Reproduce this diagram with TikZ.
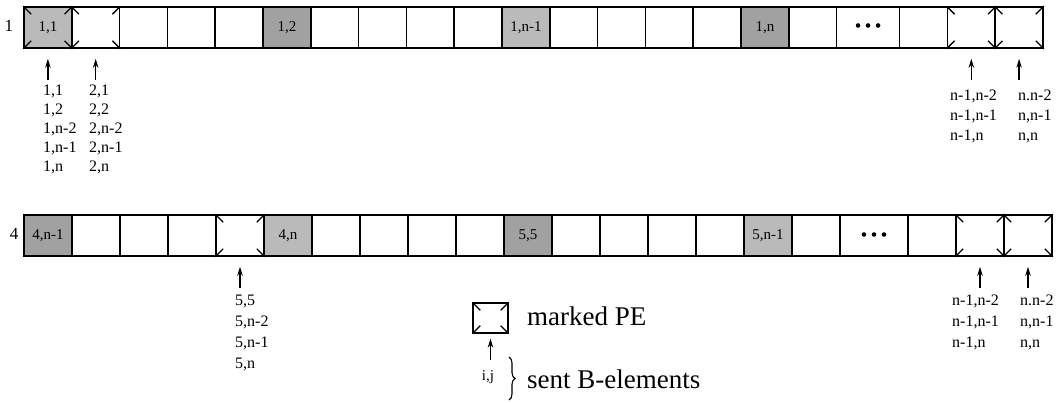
\documentclass[tikz,border=0pt]{standalone}
\usepackage{fontspec}
\setmainfont{Liberation Serif}
\usetikzlibrary{arrows.meta,decorations.pathreplacing}
\newcommand\markpe[2][8]{%
  \draw[tick] (#2.north west) -- ++(#1,#1);
  \draw[tick] (#2.north east) -- ++(-#1,#1);
  \draw[tick] (#2.south west) -- ++(#1,-#1);
  \draw[tick] (#2.south east) -- ++(-#1,-#1);}
\begin{document}
\begin{tikzpicture}[x=1pt,y=-1pt,
  pe/.style={draw, line width=1.6pt, minimum height=41pt, inner sep=0pt, font=\fontsize{15}{17}\selectfont},
  shL/.style={fill=black!27},
  shD/.style={fill=black!37},
  emp/.style={},
  tick/.style={line width=1.3pt},
  uarr/.style={-{Stealth[length=9pt,width=5.5pt]}, line width=1.3pt},
  lab/.style={anchor=north west, inner sep=0pt, align=left},
]
\path[use as bounding box] (0,0) rectangle (1061,402);

% row 1
\foreach \i/\st/\txt in {0/shL/{1,1},1/emp/{},2/emp/{},3/emp/{},4/emp/{},5/shD/{1,2},6/emp/{},7/emp/{},8/emp/{},9/emp/{},10/shL/{1,n-1},11/emp/{},12/emp/{},13/emp/{},14/emp/{},15/shD/{1,n},16/emp/{},17/emp/{},18/emp/{},19/emp/{},20/emp/{}}{
  \pgfmathsetmacro\cw{\i==17 ? 63 : 47.8}
  \pgfmathsetmacro\cx{(\i<18 ? 24+\i*47.8 : 24+17*47.8+63+(\i-18)*47.8) + \cw/2}
  \node[pe,\st,minimum width=\cw pt] (a\i) at (\cx,27.5) {\raisebox{-3pt}{\txt}};
}
% row 2
\foreach \i/\st/\txt in {0/shD/{4,n-1},1/emp/{},2/emp/{},3/emp/{},4/emp/{},5/shL/{4,n},6/emp/{},7/emp/{},8/emp/{},9/emp/{},10/shD/{5,5},11/emp/{},12/emp/{},13/emp/{},14/emp/{},15/shL/{5,n-1},16/emp/{},17/emp/{},18/emp/{},19/emp/{},20/emp/{}}{
  \pgfmathsetmacro\cw{\i==17 ? 68 : 48}
  \pgfmathsetmacro\cx{(\i<18 ? 24+\i*48 : 24+17*48+68+(\i-18)*48) + \cw/2}
  \node[pe,\st,minimum width=\cw pt] (b\i) at (\cx,235.5) {\raisebox{-2pt}{\txt}};
}

% dots
\foreach \d in {-10,0,10} {
  \fill (a17) ++(\d,-2) circle (2.3pt);
  \fill (b17) ++(\d,-1) circle (2.3pt);
}

% marked PEs
\markpe{a0}
\markpe{a1}
\markpe{a19}
\markpe{a20}
\markpe{b4}
\markpe{b19}
\markpe{b20}

% row labels
\node[font=\fontsize{17}{19}\selectfont, inner sep=0pt] (r1) at (9,26) {1};
\node[font=\fontsize{17}{19}\selectfont, inner sep=0pt] (r4) at (14,234) {4};

% row 1 labels
\begin{scope}[font=\fontsize{16}{19}\selectfont]
\node[lab] (l1) at (43,85) {1,1\\1,2\\1,n-2\\1,n-1\\1,n};
\node[lab] (l2) at (89,85) {2,1\\2,2\\2,n-2\\2,n-1\\2,n};
\end{scope}
\begin{scope}[font=\fontsize{16}{20}\selectfont]
\node[lab] (l3) at (950,90) {n-1,n-2\\n-1,n-1\\n-1,n};
\node[lab] (l4) at (1018,90) {n.n-2\\n,n-1\\n,n};
\end{scope}
\draw[uarr, shorten <=5pt, shorten >=10pt] (l1.north -| a0.south) -- (a0.south);
\draw[uarr, shorten <=5pt, shorten >=10pt] (l2.north -| a1.south) -- (a1.south);
\draw[uarr, shorten <=10pt, shorten >=10pt] (l3.north -| a19.south) -- (a19.south);
\draw[uarr, shorten <=10pt, shorten >=10pt] (l4.north -| a20.south) -- (a20.south);

% row 2 labels
\begin{scope}[font=\fontsize{16}{21}\selectfont]
\node[lab] (m1) at (235,295) {5,5\\5,n-2\\5,n-1\\5,n};
\node[lab] (m2) at (952,295) {n-1,n-2\\n-1,n-1\\n-1,n};
\node[lab] (m3) at (1020,295) {n.n-2\\n,n-1\\n,n};
\end{scope}
\draw[uarr, shorten <=7pt, shorten >=10pt] (m1.north -| b4.south) -- (b4.south);
\draw[uarr, shorten <=7pt, shorten >=10pt] (m2.north -| b19.south) -- (b19.south);
\draw[uarr, shorten <=7pt, shorten >=10pt] (m3.north -| b20.south) -- (b20.south);

% legend
\node[draw, line width=1.3pt, minimum width=35pt, minimum height=30pt, inner sep=0pt] (leg) at (490.5,318) {};
\markpe{leg}
\node[anchor=west, inner sep=0pt, font=\fontsize{27}{30}\selectfont] (legt) at (527,316) {marked PE};
\node[inner sep=0pt, font=\fontsize{15}{17}\selectfont] (ij) at (488,377) {i,j};
\draw[uarr, shorten <=10pt, shorten >=5pt] (ij.north -| leg.south) -- (leg.south);
\coordinate (bt) at (509,357);
\coordinate (bb) at (509,400);
\draw[decorate, decoration={brace, amplitude=6pt}, line width=1.1pt] (bt) -- (bb);
\node[anchor=west, inner sep=0pt, font=\fontsize{27}{30}\selectfont] (sent) at (527,379) {sent B-elements};
\end{tikzpicture}
\end{document}
